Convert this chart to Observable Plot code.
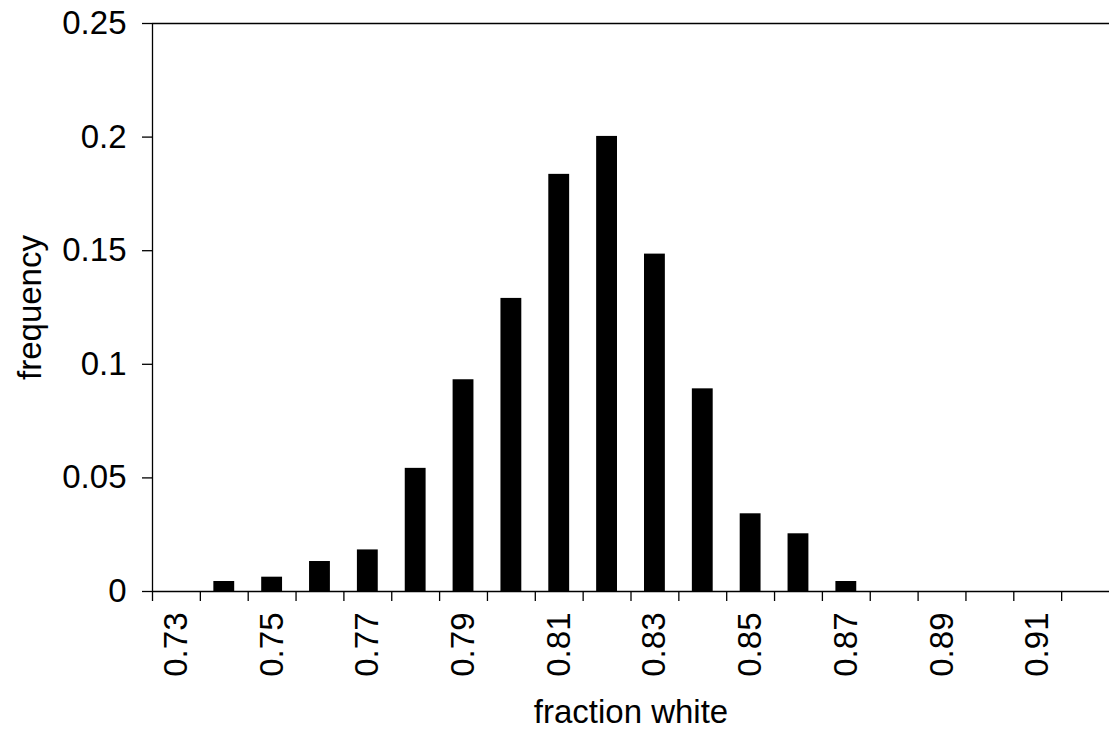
<!DOCTYPE html>
<html>
<head>
<meta charset="utf-8">
<script src="https://cdn.jsdelivr.net/npm/d3@7"></script>
<script src="https://cdn.jsdelivr.net/npm/@observablehq/plot@0.6"></script>
<style>
  html, body { margin: 0; padding: 0; background: #fff; }
  #chart { width: 1109px; height: 734px; }
</style>
</head>
<body>
<div id="chart"></div>
<script>
const categories = [0.73, 0.74, 0.75, 0.76, 0.77, 0.78, 0.79, 0.80, 0.81, 0.82,
                    0.83, 0.84, 0.85, 0.86, 0.87, 0.88, 0.89, 0.90, 0.91, 0.92];
const frequency  = [0, 0.0044, 0.0063, 0.0132, 0.0183, 0.0542, 0.0932, 0.129, 0.1836, 0.2003,
                    0.1485, 0.0892, 0.0342, 0.0254, 0.0044, 0, 0, 0, 0, 0];
const xTickLabels = ["0.73", "0.75", "0.77", "0.79", "0.81", "0.83", "0.85", "0.87", "0.89", "0.91"];
const yTicks = [0, 0.05, 0.1, 0.15, 0.2, 0.25];
const xTitle = "fraction white";
const yTitle = "frequency";

const half = 0.005;
const data = categories.map((c, i) => ({cat: c, freq: frequency[i]}));
const xDomain = [categories[0] - half, categories[categories.length - 1] + half];
const yDomain = [yTicks[0], yTicks[yTicks.length - 1]];
const boundaries = categories.map(c => c - half);

const chart = Plot.plot({
  width: 1109,
  height: 734,
  marginLeft: 152,
  marginRight: 0,
  marginTop: 23,
  marginBottom: 143,
  style: {fontFamily: "'Liberation Sans', Arial, sans-serif", fontSize: "33px", color: "black", background: "white"},
  x: {domain: xDomain},
  y: {domain: yDomain},
  marks: [
    Plot.rectY(data, {x1: d => d.cat - half, x2: d => d.cat + half, y: "freq", insetLeft: 13.5, insetRight: 13.5, fill: "black"}),
    Plot.ruleX([xDomain[0]], {stroke: "black", strokeWidth: 1.3}),
    Plot.ruleY([yDomain[1]], {stroke: "black", strokeWidth: 1.3}),
    Plot.ruleY([yDomain[0]], {stroke: "black", strokeWidth: 1.3}),
    Plot.axisY({ticks: yTicks, tickFormat: d => String(d), tickSize: 10, tickPadding: 16, strokeWidth: 1.3, label: null}),
    Plot.axisX({ticks: boundaries, tickFormat: () => "", tickSize: 10, strokeWidth: 1.3, label: null}),
    Plot.axisX({ticks: xTickLabels.map(Number), tickFormat: (d, i) => xTickLabels[i], tickSize: 0, tickPadding: 21, tickRotate: -90, label: null}),
    Plot.text([xTitle], {frameAnchor: "bottom", dy: 121, lineAnchor: "middle", textAnchor: "middle", fill: "black"}),
    Plot.text([yTitle], {frameAnchor: "left", dx: -122, rotate: -90, lineAnchor: "middle", textAnchor: "middle", fill: "black"})
  ]
});
document.getElementById("chart").appendChild(chart);
</script>
</body>
</html>
